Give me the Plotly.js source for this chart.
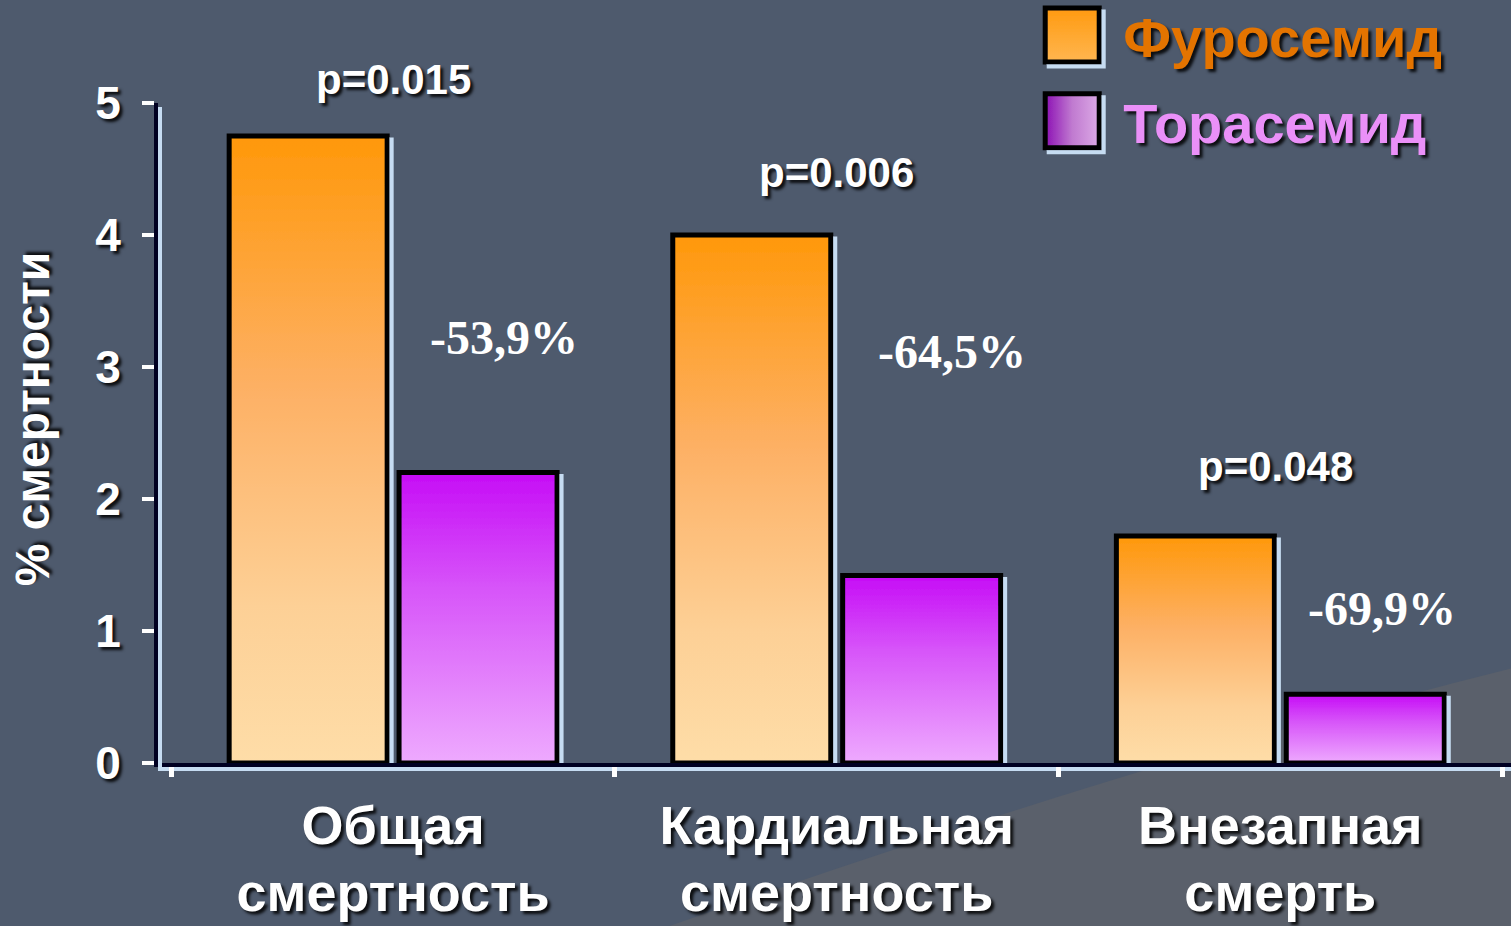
<!DOCTYPE html>
<html>
<head>
<meta charset="utf-8">
<script src="https://cdn.plot.ly/plotly-3.0.1.min.js"></script>
<style>
  html, body { margin: 0; padding: 0; background: #4e5a6d; }
  #chart { width: 1511px; height: 926px; }
</style>
</head>
<body>
<div id="chart"></div>
<script>
// ---- data ----
const categories = ['Общая<br>смертность', 'Кардиальная<br>смертность', 'Внезапная<br>смерть'];
const seriesNames = ['Фуросемид', 'Торасемид'];
const furosemide = [4.75, 4.0, 1.72];
const torasemide = [2.2, 1.42, 0.52];
const pValues = ['p=0.015', 'p=0.006', 'p=0.048'];
const reductions = ['-53,9%', '-64,5%', '-69,9%'];
const yTicks = [0, 1, 2, 3, 4, 5];

// ---- styling ----
const SANS = 'Liberation Sans, Arial, sans-serif';
const SERIF = 'Liberation Serif, Times New Roman, serif';
const SHADOW = '3px 3px 3px rgba(0,0,0,0.85)';
const nameColors = ['#e47400', '#ea90f8'];

const traces = [
  { type: 'bar', x: categories, y: furosemide,
    name: '<span style="color:' + nameColors[0] + '">' + seriesNames[0] + '</span>',
    legendgroup: 'a',
    marker: { color: '#ffa640', line: { color: '#000000', width: 5 } },
    hoverinfo: 'none' },
  { type: 'bar', x: categories, y: torasemide,
    name: '<span style="color:' + nameColors[1] + '">' + seriesNames[1] + '</span>',
    legendgroup: 'b',
    marker: { color: '#e070fa', line: { color: '#000000', width: 5 } },
    hoverinfo: 'none' }
];

// annotation placement: x in category units, y in paper units (0..1 = 0..5 %)
const pPos = [[0.0, 1.035], [1.0, 0.895], [1.99, 0.45]];
const rPos = [[0.25, 0.644], [1.26, 0.623], [2.23, 0.234]];
const annotations = [];
pValues.forEach((t, i) => annotations.push({
  text: t, x: pPos[i][0], y: pPos[i][1], xref: 'x', yref: 'paper', showarrow: false,
  xanchor: 'center', yanchor: 'middle',
  font: { family: SANS, size: 42, color: '#ffffff', weight: 'bold', shadow: SHADOW }
}));
reductions.forEach((t, i) => annotations.push({
  text: t, x: rPos[i][0], y: rPos[i][1], xref: 'x', yref: 'paper', showarrow: false,
  xanchor: 'center', yanchor: 'middle',
  font: { family: SERIF, size: 48, color: '#ffffff', weight: 'bold' }
}));

// background lighter wedge (paper coords: x=(px-158)/1353, y=(763-py)/660)
const wedge = {
  type: 'path', xref: 'paper', yref: 'paper', layer: 'below',
  path: 'M 0.36,-0.26 Q 0.72,0.0 1.0,0.143 L 1.0,-0.26 Z',
  fillcolor: '#5a606b', line: { width: 0 }
};

const layout = {
  width: 1511, height: 926,
  margin: { l: 158, r: 0, t: 103, b: 163, autoexpand: false },
  paper_bgcolor: '#4e5a6d', plot_bgcolor: 'rgba(0,0,0,0)',
  barmode: 'group', bargap: 0.234, bargroupgap: 0.07,
  xaxis: {
    type: 'category', range: [-0.53, 2.52], tickson: 'boundaries',
    ticks: 'outside', ticklen: 10, tickwidth: 5, tickcolor: '#ffffff',
    showline: true, linecolor: '#000022', linewidth: 4,
    showgrid: false, zeroline: false, fixedrange: true,
    ticklabelstandoff: 12,
    tickfont: { family: SANS, size: 54, color: '#ffffff', weight: 'bold', shadow: SHADOW }
  },
  yaxis: {
    range: [0, 5], tickvals: yTicks, ticktext: yTicks.map(String),
    ticks: 'outside', ticklen: 12, tickwidth: 4, tickcolor: '#ffffff',
    showline: true, linecolor: '#000022', linewidth: 4,
    showgrid: false, zeroline: false, fixedrange: true,
    ticklabelstandoff: 12,
    tickfont: { family: SANS, size: 46, color: '#ffffff', weight: 'bold', shadow: SHADOW },
    title: { text: '% смертности', standoff: 30,
      font: { family: SANS, size: 48, color: '#ffffff', weight: 'bold', shadow: SHADOW } }
  },
  showlegend: true,
  legend: {
    x: 0.638, y: 1.168, xanchor: 'left', yanchor: 'top',
    bgcolor: 'rgba(0,0,0,0)', borderwidth: 0,
    itemwidth: 92, tracegroupgap: 10, traceorder: 'grouped',
    font: { family: SANS, size: 56, color: '#ffffff', weight: 'bold', shadow: SHADOW }
  },
  shapes: [wedge],
  annotations: annotations
};

function svgEl(tag, attrs, parent) {
  const e = document.createElementNS('http://www.w3.org/2000/svg', tag);
  for (const k in attrs) e.setAttribute(k, attrs[k]);
  if (parent) parent.appendChild(e);
  return e;
}

function decorate(gd) {
  const svg = gd.querySelector('svg.main-svg');
  let defs = svg.querySelector('defs');
  if (!defs) defs = svgEl('defs', {}, svg);
  function grad(id, stops, horiz) {
    const g = svgEl('linearGradient', { id: id, x1: 0, y1: 0, x2: horiz ? 1 : 0, y2: horiz ? 0 : 1 }, defs);
    stops.forEach(s => svgEl('stop', { offset: s[0], 'stop-color': s[1] }, g));
  }
  grad('gOrange', [[0, '#ff980a'], [0.4, '#fdb064'], [0.75, '#fdd096'], [1, '#fedda8']]);
  grad('gPurple', [[0, '#c60cf6'], [0.4, '#d755f9'], [1, '#eeaafe']]);
  grad('gOrangeLeg', [[0, '#ff9a10'], [1, '#ffb650']]);
  grad('gPurpleLeg', [[0, '#8c10b4'], [0.5, '#c07ad0'], [1, '#dcaae6']], true);
  const f = svgEl('filter', { id: 'lightShadow', filterUnits: 'userSpaceOnUse', x: -3000, y: -3000, width: 6000, height: 6000 }, defs);
  svgEl('feDropShadow', { dx: 4, dy: 4, stdDeviation: 0, 'flood-color': '#c6dcf2', 'flood-opacity': 1 }, f);

  const fills = ['url(#gOrange)', 'url(#gPurple)'];
  gd.querySelectorAll('.barlayer .trace').forEach((tr, i) => {
    tr.querySelectorAll('.point path').forEach(p => {
      p.style.fill = fills[i];
      p.setAttribute('filter', 'url(#lightShadow)');
    });
  });
  gd.querySelectorAll('path.xlines-above, path.ylines-above').forEach(p => p.setAttribute('filter', 'url(#lightShadow)'));

  const legFills = ['url(#gOrangeLeg)', 'url(#gPurpleLeg)'];
  gd.querySelectorAll('.legend .traces').forEach((tr, i) => {
    tr.querySelectorAll('.legendpoints path').forEach(p => {
      p.setAttribute('d', 'M27,27H-27V-27H27Z');
      p.style.fill = legFills[i];
      p.style.stroke = '#000000';
      p.style.strokeWidth = '5px';
      p.setAttribute('filter', 'url(#lightShadow)');
    });
  });

  // line spacing for two-line category labels
  gd.querySelectorAll('.xtick text tspan.line').forEach(t => {
    if (t.getAttribute('dy') && t.getAttribute('dy') !== '0em') t.setAttribute('dy', '1.25em');
  });

  // nudge the y-axis title slightly upward, as in the original slide
  const yt = gd.querySelector('.g-ytitle');
  if (yt) yt.setAttribute('transform', 'translate(-1,-14)');
}

Plotly.newPlot('chart', traces, layout, { staticPlot: true, displayModeBar: false }).then(decorate);
</script>
</body>
</html>
